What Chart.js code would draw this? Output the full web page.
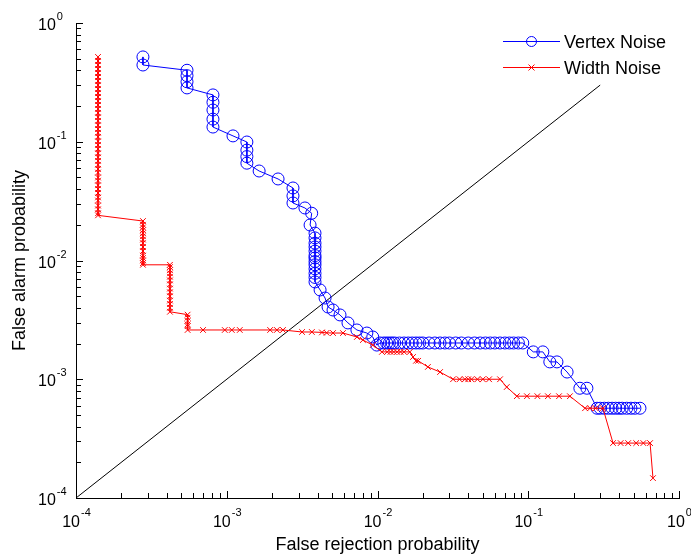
<!DOCTYPE html>
<html lang="en">
<head>
  <meta charset="UTF-8">
  <title>False alarm vs false rejection</title>
  <script src="https://cdn.jsdelivr.net/npm/chart.js"></script>
  <style>
    body {
      margin: 0;
      padding: 0;
      background: #fff;
    }
    #wrap {
      width: 691px;
      height: 557px;
    }
  </style>
</head>
<body>
  <div id="wrap">
    <canvas id="rocChart" width="691" height="557"></canvas>
  </div>

  <script>
    // Vertex Noise (blue circles)
    const vertexX = [
      2.78e-4, 2.78e-4,
      5.45e-4, 5.45e-4, 5.45e-4, 5.45e-4,
      8.1e-4, 8.1e-4, 8.1e-4, 8.1e-4, 8.1e-4,
      1.1e-3,
      1.36e-3, 1.36e-3, 1.36e-3, 1.36e-3,
      1.64e-3, 2.19e-3,
      2.75e-3, 2.75e-3, 2.75e-3,
      3.3e-3, 3.66e-3, 3.57e-3,
      3.85e-3, 3.85e-3, 3.85e-3, 3.85e-3, 3.85e-3, 3.85e-3, 3.85e-3,
      3.85e-3, 3.85e-3, 3.85e-3, 3.85e-3, 3.85e-3, 3.85e-3,
      4.16e-3, 4.49e-3, 4.7e-3, 5.07e-3, 5.64e-3, 6.37e-3, 7.3e-3, 8.5e-3, 9.3e-3, 9.9e-3,
      0.0104, 0.011, 0.0115, 0.012, 0.0125, 0.013, 0.014, 0.015, 0.016, 0.017, 0.018,
      0.019, 0.020, 0.022, 0.024, 0.026, 0.028, 0.030, 0.033, 0.036, 0.040, 0.044,
      0.048, 0.052, 0.056, 0.060, 0.065, 0.070, 0.075, 0.080, 0.086, 0.092,
      0.108, 0.125, 0.139, 0.155, 0.181, 0.22, 0.245,
      0.286, 0.30, 0.32, 0.34, 0.36, 0.38, 0.40, 0.42, 0.45, 0.48, 0.51, 0.551
    ];
    const vertexY = [
      0.518, 0.443,
      0.40, 0.36, 0.32, 0.284,
      0.248, 0.215, 0.185, 0.155, 0.133,
      0.112,
      0.0995, 0.085, 0.075, 0.066,
      0.0567, 0.0486,
      0.0408, 0.035, 0.0305,
      0.0277, 0.025, 0.0199,
      0.017, 0.0155, 0.014, 0.013, 0.012, 0.011, 0.0105,
      0.0098, 0.0092, 0.0085, 0.0078, 0.0072, 0.0066,
      0.00565, 0.00483, 0.00406, 0.00383, 0.00348, 0.00298, 0.0026, 0.00245, 0.00227, 0.00194,
      0.00202, 0.00202, 0.00202, 0.00202, 0.00202, 0.00202, 0.00202, 0.00202, 0.00202, 0.00202, 0.00202,
      0.00202, 0.00202, 0.00202, 0.00202, 0.00202, 0.00202, 0.00202, 0.00202, 0.00202, 0.00202, 0.00202,
      0.00202, 0.00202, 0.00202, 0.00202, 0.00202, 0.00202, 0.00202, 0.00202, 0.00202, 0.00202,
      0.0017, 0.0017, 0.0014, 0.0014, 0.00115, 0.00084, 0.00084,
      0.00057, 0.00057, 0.00057, 0.00057, 0.00057, 0.00057, 0.00057, 0.00057, 0.00057, 0.00057, 0.00057, 0.00057
    ];

    // Width Noise (red crosses)
    const widthX = [
      1.4e-4, 1.4e-4, 1.4e-4, 1.4e-4, 1.4e-4, 1.4e-4, 1.4e-4, 1.4e-4, 1.4e-4, 1.4e-4,
      1.4e-4, 1.4e-4, 1.4e-4, 1.4e-4, 1.4e-4, 1.4e-4, 1.4e-4, 1.4e-4, 1.4e-4, 1.4e-4,
      1.4e-4, 1.4e-4, 1.4e-4, 1.4e-4, 1.4e-4, 1.4e-4, 1.4e-4, 1.4e-4, 1.4e-4, 1.4e-4,
      1.4e-4, 1.4e-4, 1.4e-4, 1.4e-4, 1.4e-4, 1.4e-4, 1.4e-4, 1.4e-4, 1.4e-4, 1.4e-4, 1.4e-4,
      2.78e-4, 2.78e-4, 2.78e-4, 2.78e-4, 2.78e-4, 2.78e-4, 2.78e-4, 2.78e-4,
      2.78e-4, 2.78e-4, 2.78e-4, 2.78e-4, 2.78e-4, 2.78e-4, 2.78e-4,
      4.2e-4, 4.2e-4, 4.2e-4, 4.2e-4, 4.2e-4, 4.2e-4, 4.2e-4,
      4.2e-4, 4.2e-4, 4.2e-4, 4.2e-4, 4.2e-4, 4.2e-4, 4.2e-4,
      5.5e-4, 5.5e-4, 5.5e-4, 5.5e-4, 5.5e-4, 5.5e-4,
      6.96e-4, 9.7e-4, 1.08e-3, 1.22e-3, 1.94e-3, 2.15e-3, 2.36e-3,
      3.16e-3, 3.67e-3, 4.28e-3, 4.6e-3, 5.07e-3, 5.9e-3,
      7.3e-3, 8.0e-3, 9.3e-3, 0.0107,
      0.0116, 0.0122, 0.0128, 0.0135, 0.0142, 0.015, 0.0164,
      0.0172, 0.018, 0.0186, 0.0216, 0.026,
      0.0317, 0.035, 0.038, 0.040, 0.042, 0.046, 0.050, 0.055, 0.065,
      0.072, 0.084, 0.098, 0.115, 0.135, 0.16, 0.189,
      0.238, 0.257, 0.28, 0.313,
      0.365, 0.41, 0.46, 0.52, 0.58, 0.643, 0.672
    ];
    const widthY = [
      0.518, 0.479, 0.443, 0.410, 0.379, 0.351, 0.325, 0.300, 0.278, 0.257,
      0.238, 0.220, 0.204, 0.189, 0.175, 0.161, 0.150, 0.138, 0.128, 0.119,
      0.110, 0.101, 0.094, 0.087, 0.080, 0.074, 0.069, 0.064, 0.059, 0.055,
      0.050, 0.047, 0.043, 0.040, 0.037, 0.034, 0.032, 0.029, 0.027, 0.025, 0.024,
      0.0215, 0.020, 0.019, 0.018, 0.017, 0.016, 0.015, 0.014,
      0.013, 0.012, 0.011, 0.0105, 0.010, 0.0095, 0.0092,
      0.0092, 0.0088, 0.0083, 0.0078, 0.0073, 0.0068, 0.0063,
      0.0058, 0.0054, 0.0050, 0.0046, 0.0043, 0.0040, 0.0037,
      0.0035, 0.0033, 0.0031, 0.0029, 0.0028, 0.0026,
      0.0026, 0.0026, 0.0026, 0.0026, 0.0026, 0.0026, 0.0026,
      0.0025, 0.0025, 0.00248, 0.00246, 0.00245, 0.00245,
      0.00227, 0.00214, 0.00194, 0.0017,
      0.0017, 0.0017, 0.0017, 0.0017, 0.0017, 0.0017, 0.0017,
      0.00154, 0.00143, 0.00143, 0.00127, 0.00115,
      0.001, 0.001, 0.001, 0.001, 0.001, 0.001, 0.001, 0.001, 0.001,
      0.00086, 0.00072, 0.00072, 0.00072, 0.00072, 0.00072, 0.00072,
      0.00057, 0.00057, 0.00057, 0.00057,
      0.00029, 0.00029, 0.00029, 0.00029, 0.00029, 0.00029, 0.000147
    ];

    // equal error line y = x
    const diagX = [1e-4, 0.3];
    const diagY = [1e-4, 0.3];

    const seriesNames = ["Vertex Noise", "Width Noise"];
    const tickExponents = [-4, -3, -2, -1, 0];
    const xTitle = "False rejection probability";
    const yTitle = "False alarm probability";

    const toPoints = (xs, ys) => xs.map((x, i) => ({ x: x, y: ys[i] }));

    const FONT = "'Liberation Sans', Arial, Helvetica, sans-serif";

    const matlabAxes = {
      id: "matlabAxes",
      afterDraw(chart) {
        const ctx = chart.ctx;
        const xs = chart.scales.x;
        const ys = chart.scales.y;
        const area = chart.chartArea;
        ctx.save();
        ctx.strokeStyle = "#000";
        ctx.lineWidth = 1;

        // inward ticks, major and minor
        tickExponents.forEach((e) => {
          for (let m = 1; m <= 9; m++) {
            if (e === 0 && m > 1) break;
            const v = m * Math.pow(10, e);
            const len = m === 1 ? 7 : 5;
            const px = Math.round(xs.getPixelForValue(v)) + 0.5;
            ctx.beginPath();
            ctx.moveTo(px, area.bottom);
            ctx.lineTo(px, area.bottom - len);
            ctx.stroke();
            const py = Math.round(ys.getPixelForValue(v)) + 0.5;
            ctx.beginPath();
            ctx.moveTo(area.left, py);
            ctx.lineTo(area.left + len, py);
            ctx.stroke();
          }
        });

        // tick labels as 10 with a raised exponent
        ctx.fillStyle = "#000";
        ctx.textBaseline = "alphabetic";
        tickExponents.forEach((e) => {
          const v = Math.pow(10, e);
          const exp = String(e);
          ctx.font = "16px " + FONT;
          const wBase = ctx.measureText("10").width;
          ctx.font = "11px " + FONT;
          const wExp = ctx.measureText(exp).width;

          const px = xs.getPixelForValue(v);
          const start = px - (wBase + wExp) / 2;
          ctx.textAlign = "left";
          ctx.font = "16px " + FONT;
          ctx.fillText("10", start, 527);
          ctx.font = "11px " + FONT;
          ctx.fillText(exp, start + wBase + 1, 516);

          const py = ys.getPixelForValue(v);
          ctx.font = "16px " + FONT;
          ctx.fillText("10", 38, py + 7);
          ctx.font = "11px " + FONT;
          ctx.fillText(exp, 38 + wBase + 1, py - 3);
        });

        // axis titles
        ctx.font = "18px " + FONT;
        ctx.textAlign = "center";
        ctx.fillText(xTitle, (area.left + area.right) / 2, 550);
        ctx.save();
        ctx.translate(25, (area.top + area.bottom) / 2);
        ctx.rotate(-Math.PI / 2);
        ctx.fillText(yTitle, 0, 0);
        ctx.restore();

        // legend
        const rows = [
          { name: seriesNames[0], color: "#0000ff", y: 41, mark: "circle" },
          { name: seriesNames[1], color: "#ff0000", y: 67, mark: "cross" }
        ];
        rows.forEach((r) => {
          ctx.strokeStyle = r.color;
          ctx.lineWidth = 1;
          ctx.beginPath();
          ctx.moveTo(503, r.y + 0.5);
          ctx.lineTo(560, r.y + 0.5);
          ctx.stroke();
          ctx.beginPath();
          if (r.mark === "circle") {
            ctx.arc(531.5, r.y + 0.5, 5, 0, Math.PI * 2);
          } else {
            ctx.moveTo(528.5, r.y - 2.5);
            ctx.lineTo(534.5, r.y + 3.5);
            ctx.moveTo(534.5, r.y - 2.5);
            ctx.lineTo(528.5, r.y + 3.5);
          }
          ctx.stroke();
          ctx.fillStyle = "#000";
          ctx.textAlign = "left";
          ctx.font = "18px " + FONT;
          ctx.fillText(r.name, 564, r.y + 7);
        });
        ctx.restore();
      }
    };

    const ctx = document.getElementById("rocChart").getContext("2d");
    new Chart(ctx, {
      type: "scatter",
      data: {
        datasets: [
          {
            label: seriesNames[0],
            data: toPoints(vertexX, vertexY),
            showLine: true,
            borderColor: "#0000ff",
            borderWidth: 1,
            pointStyle: "circle",
            pointRadius: 6,
            pointBorderColor: "#0000ff",
            pointBackgroundColor: "rgba(0,0,0,0)",
            pointBorderWidth: 1,
            order: 2
          },
          {
            label: seriesNames[1],
            data: toPoints(widthX, widthY),
            showLine: true,
            borderColor: "#ff0000",
            borderWidth: 1,
            pointStyle: "crossRot",
            pointRadius: 4,
            pointBorderColor: "#ff0000",
            pointBorderWidth: 1,
            order: 1
          },
          {
            label: "diagonal",
            data: toPoints(diagX, diagY),
            showLine: true,
            borderColor: "#000",
            borderWidth: 1,
            pointRadius: 0,
            order: 3
          }
        ]
      },
      options: {
        responsive: false,
        devicePixelRatio: 1,
        animation: false,
        layout: {
          padding: { left: 76, right: 12, top: 23, bottom: 59 }
        },
        plugins: {
          legend: { display: false },
          tooltip: { enabled: false }
        },
        scales: {
          x: {
            type: "logarithmic",
            min: 1e-4,
            max: 1,
            ticks: { display: false, padding: 0 },
            grid: { display: false, drawTicks: false, tickLength: 0 },
            border: { display: true, color: "#000", width: 1 }
          },
          y: {
            type: "logarithmic",
            min: 1e-4,
            max: 1,
            ticks: { display: false, padding: 0 },
            grid: { display: false, drawTicks: false, tickLength: 0 },
            border: { display: true, color: "#000", width: 1 }
          }
        }
      },
      plugins: [matlabAxes]
    });
  </script>
</body>
</html>
